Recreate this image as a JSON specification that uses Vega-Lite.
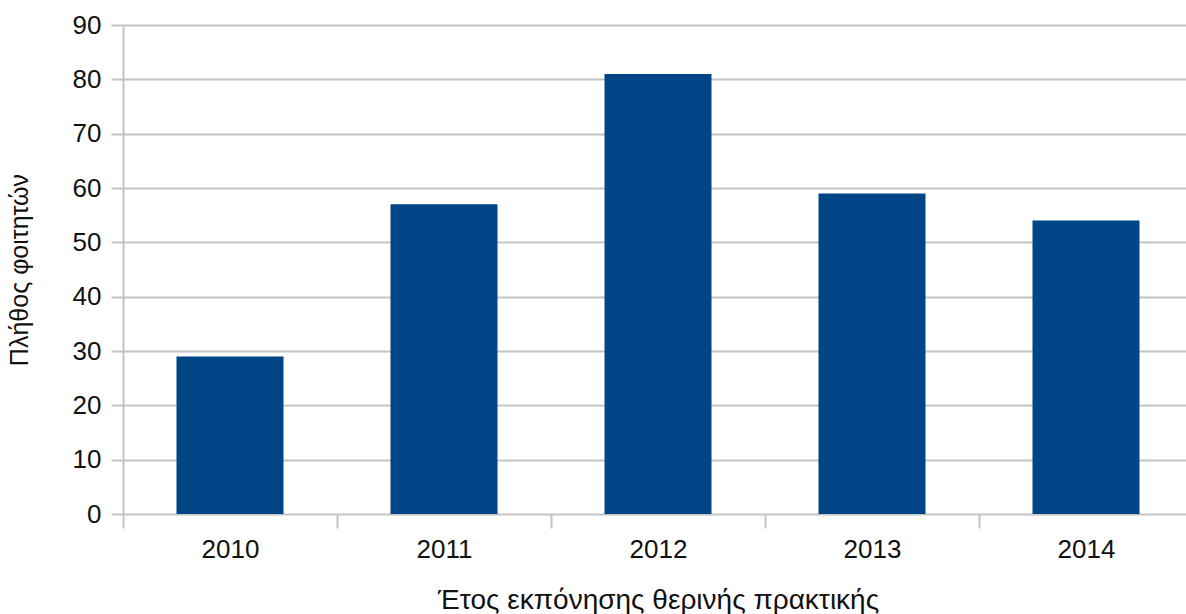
{
  "$schema": "https://vega.github.io/schema/vega-lite/v6.json",
  "autosize": {"type": "none"},
  "width": 1070,
  "height": 489,
  "padding": {"left": 123, "top": 25, "right": 0, "bottom": 100},
  "background": "white",
  "config": {
    "view": {"stroke": null},
    "font": "Liberation Sans",
    "axis": {
      "labelFont": "Liberation Sans",
      "titleFont": "Liberation Sans",
      "labelColor": "#111111",
      "titleColor": "#111111",
      "titleFontWeight": "normal",
      "gridColor": "#c4c4c4",
      "gridWidth": 2,
      "tickColor": "#c4c4c4",
      "tickWidth": 2,
      "domainColor": "#c4c4c4",
      "domainWidth": 2
    }
  },
  "data": {
    "values": [
      {"year": "2010", "students": 29},
      {"year": "2011", "students": 57},
      {"year": "2012", "students": 81},
      {"year": "2013", "students": 59},
      {"year": "2014", "students": 54}
    ]
  },
  "mark": {"type": "bar", "color": "#004586", "width": {"band": 0.5}},
  "encoding": {
    "x": {
      "field": "year",
      "type": "nominal",
      "sort": null,
      "scale": {"paddingInner": 0, "paddingOuter": 0},
      "axis": {
        "title": "Έτος εκπόνησης θερινής πρακτικής",
        "labelAngle": 0,
        "labelFontSize": 26,
        "titleFontSize": 28,
        "labelPadding": 8,
        "titlePadding": 24,
        "tickSize": 14,
        "tickBand": "extent",
        "domain": false,
        "grid": false
      }
    },
    "y": {
      "field": "students",
      "type": "quantitative",
      "scale": {"domain": [0, 90], "nice": false},
      "axis": {
        "title": "Πλήθος φοιτητών",
        "values": [0, 10, 20, 30, 40, 50, 60, 70, 80, 90],
        "labelFontSize": 26,
        "titleFontSize": 25,
        "tickSize": 12,
        "labelPadding": 10,
        "titlePadding": 40,
        "domain": true,
        "grid": true
      }
    }
  }
}
